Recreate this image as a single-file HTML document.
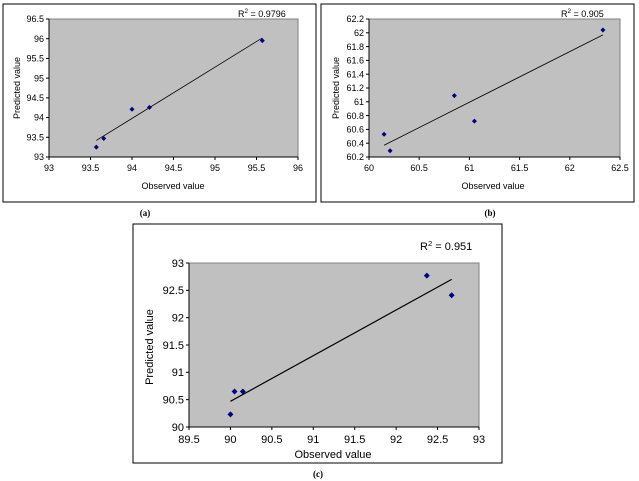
<!DOCTYPE html>
<html><head><meta charset="utf-8"><style>
html,body{margin:0;padding:0;background:#fff;}
svg{display:block;font-family:"Liberation Sans",Arial,sans-serif;}
</style></head><body>
<svg id="s" width="639" height="481" viewBox="0 0 639 481" xmlns="http://www.w3.org/2000/svg"></svg>
<script>
// Chart (a)
const aObserved = [93.57, 93.66, 94.0, 94.21, 95.57];
const aPredicted = [93.25, 93.47, 94.21, 94.26, 95.95];
const aTrendX = [93.57, 95.57];
const aTrendY = [93.42, 96.02];
const aXTicks = [93, 93.5, 94, 94.5, 95, 95.5, 96];
const aYTicks = [93, 93.5, 94, 94.5, 95, 95.5, 96, 96.5];
// Chart (b)
const bObserved = [60.15, 60.21, 60.85, 61.05, 62.33];
const bPredicted = [60.53, 60.29, 61.09, 60.72, 62.04];
const bTrendX = [60.15, 62.33];
const bTrendY = [60.37, 61.97];
const bXTicks = [60, 60.5, 61, 61.5, 62, 62.5];
const bYTicks = [60.2, 60.4, 60.6, 60.8, 61, 61.2, 61.4, 61.6, 61.8, 62, 62.2];
// Chart (c)
const cObserved = [90.0, 90.05, 90.15, 92.37, 92.67];
const cPredicted = [90.23, 90.65, 90.65, 92.77, 92.41];
const cTrendX = [90.0, 92.67];
const cTrendY = [90.47, 92.7];
const cXTicks = [89.5, 90, 90.5, 91, 91.5, 92, 92.5, 93];
const cYTicks = [90, 90.5, 91, 91.5, 92, 92.5, 93];

const NS = "http://www.w3.org/2000/svg";
const svg = document.getElementById('s');
function mk(tag, attrs, parent, txt){
  const e = document.createElementNS(NS, tag);
  for (const k in attrs) e.setAttribute(k, attrs[k]);
  if (txt !== undefined) e.textContent = txt;
  (parent || svg).appendChild(e);
  return e;
}
function chart(cfg){
  const g = mk('g', {});
  
  
  const box = mk('rect', {x:cfg.bx, y:cfg.by, width:cfg.bw, height:cfg.bh, fill:'#fff', stroke:'#000', 'stroke-width':1}, g);
  
  
  const p = cfg.plot;
  const xs = v => p.l + (v - cfg.xt[0]) / (cfg.xt[cfg.xt.length-1] - cfg.xt[0]) * (p.r - p.l);
  const ys = v => p.b - (v - cfg.yt[0]) / (cfg.yt[cfg.yt.length-1] - cfg.yt[0]) * (p.b - p.t);
  const pa = mk('rect', {x:p.l, y:p.t, width:p.r-p.l, height:p.b-p.t, fill:'#c0c0c0', stroke:'#808080', 'stroke-width':1}, g);
  
  
  mk('line', {x1:p.l, y1:p.t, x2:p.l, y2:p.b, stroke:'#000'}, g);
  mk('line', {x1:p.l, y1:p.b, x2:p.r, y2:p.b, stroke:'#000'}, g);
  cfg.xt.forEach(v => {
    const x = xs(v);
    mk('line', {x1:x, y1:p.b, x2:x, y2:p.b+3, stroke:'#000'}, g);
    const t = mk('text', {x:x, y:p.b+cfg.fs+5, 'font-size':cfg.fs, 'text-anchor':'middle'}, g, String(v));
    
    
  });
  cfg.yt.forEach(v => {
    const y = ys(v);
    mk('line', {x1:p.l-3, y1:y, x2:p.l, y2:y, stroke:'#000'}, g);
    const t = mk('text', {x:p.l-5, y:y+cfg.fs*0.35, 'font-size':cfg.fs, 'text-anchor':'end'}, g, String(v));
    
    
  });
  const tl = mk('line', {x1:xs(cfg.tx[0]), y1:ys(cfg.ty[0]), x2:xs(cfg.tx[1]), y2:ys(cfg.ty[1]), stroke:'#000', 'stroke-width':cfg.lw}, g);
  
  
  cfg.ox.forEach((v, i) => {
    const x = xs(v), y = ys(cfg.py[i]), d = cfg.ms;
    const pt = mk('polygon', {points:`${x},${y-d} ${x+d},${y} ${x},${y+d} ${x-d},${y}`, fill:'#000080'}, g);
    
    
  });
  const r2 = mk('text', {x:cfg.r2x, y:cfg.r2y, 'font-size':cfg.fs}, g);
  
  
  r2.innerHTML = 'R<tspan dy="-4" font-size="'+(cfg.fs*0.7)+'">2</tspan><tspan dy="4"> = ' + cfg.r2 + '</tspan>';
  const xl = mk('text', {x:cfg.xlx, y:cfg.xly, 'font-size':cfg.fs, 'text-anchor':'middle'}, g, 'Observed value');
  
  
  const yl = mk('text', {x:0, y:0, 'font-size':cfg.fs, 'text-anchor':'middle', transform:`translate(${cfg.ylx},${cfg.yly}) rotate(-90)`}, g, 'Predicted value');
  
  
  const cap = mk('text', {x:cfg.capx, y:cfg.capy, 'font-size':9, 'font-weight':'bold', 'text-anchor':'middle', 'font-family':'Liberation Serif,serif'}, svg, '(' + cfg.id + ')');
  
  
}
chart({id:'a', bx:3, by:4, bw:313, bh:198, plot:{l:49, r:298, t:19, b:157}, xt:aXTicks, yt:aYTicks,
  ox:aObserved, py:aPredicted, tx:aTrendX, ty:aTrendY, fs:9, ms:2.5, lw:0.8, r2:'0.9796', r2x:238, r2y:17,
  xlx:173, xly:189, ylx:20, yly:88, capx:145, capy:216});
chart({id:'b', bx:321, by:4, bw:313, bh:198, plot:{l:369, r:620, t:19, b:157}, xt:bXTicks, yt:bYTicks,
  ox:bObserved, py:bPredicted, tx:bTrendX, ty:bTrendY, fs:9, ms:2.5, lw:0.8, r2:'0.905', r2x:561, r2y:17,
  xlx:493, xly:189, ylx:339, yly:88, capx:490, capy:216});
chart({id:'c', bx:133, by:224, bw:369, bh:239, plot:{l:189, r:479, t:263, b:427}, xt:cXTicks, yt:cYTicks,
  ox:cObserved, py:cPredicted, tx:cTrendX, ty:cTrendY, fs:11, ms:3, lw:1.2, r2:'0.951', r2x:420, r2y:250,
  xlx:333, xly:458, ylx:153, yly:347, capx:318, capy:477});
</script>
</body></html>
